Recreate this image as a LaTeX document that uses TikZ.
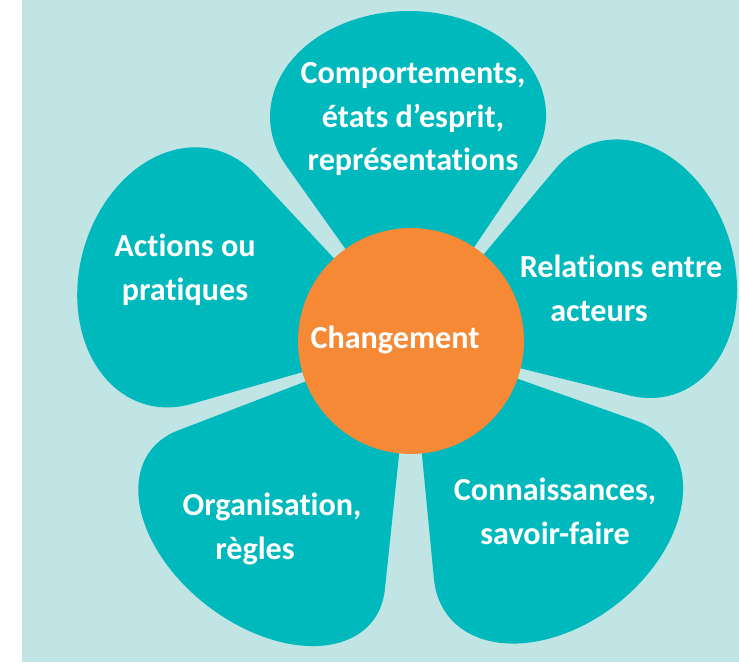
\documentclass[tikz,border=0pt]{standalone}
\usepackage{fontspec}
\setmainfont{Carlito}[Ligatures=NoCommon]
\usepackage{tikz}
\usetikzlibrary{positioning,calc}

\definecolor{bgcyan}{RGB}{192,229,228}
\definecolor{petal}{RGB}{0,185,189}
\definecolor{heart}{RGB}{245,137,53}

\tikzset{
  lbl/.style={text=white,font=\bfseries\fontsize{18.3}{25}\selectfont,align=center,inner sep=0pt},
}

\begin{document}
\begin{tikzpicture}[x=0.02cm,y=0.02cm]
    \useasboundingbox (0,0) rectangle (739,662);
    % background
    \fill[bgcyan] (22,0) rectangle (739,662);
    % petals: axis angle / half-angle of the stem / half-width / reach
    % stem = two straight sides, cap = half ellipse touching them
    \foreach \a/\h/\w/\R in {90.75/34.7/138/330, 164.5/31.5/132/340, 18/32/132/334,
                             232.5/31.5/140/334, 308/32.5/140/334}{
      \pgfmathsetmacro\m{tan(\h)}
      \pgfmathsetmacro\c{((\R/100)^2+(\w/\m/100)^2)/(2*\R/100)*100}
      \pgfmathsetmacro\b{\R-\c}
      \pgfmathsetmacro\yt{\c/((\b/100)^2*\m*\m/((\w/100)^2)+1)}
      \pgfmathsetmacro\th{asin((\yt-\c)/\b)}
      \begin{scope}[shift={(411,321)},rotate=\a-90]
        \fill[petal] (0,0) -- ({-\m*\yt},\yt)
          arc[start angle={180-\th},end angle={\th},x radius=\w,y radius=\b] -- cycle;
      \end{scope}
    }
    % heart of the flower
    \node[circle,fill=heart,minimum size=4.52cm,inner sep=0pt] (heart) at (411,321) {};
    \node[lbl] (chg) at (395,322) {Changement};
    % petal texts
    \node[lbl] (comp) at (413,543) {Comportements,\\ états d’esprit,\\ représentations};
    \node[lbl] (act) at (185,392) {Actions ou\\ pratiques};
    \node[lbl] (rel) at (621,374) {Relations entre\\ acteurs\hspace*{0.88cm}};
    \node[lbl] (org) at (272,133) {Organisation,\\ règles\hspace*{0.68cm}};
    \node[lbl] (con) at (555,151) {Connaissances,\\ savoir-faire};
\end{tikzpicture}
\end{document}
